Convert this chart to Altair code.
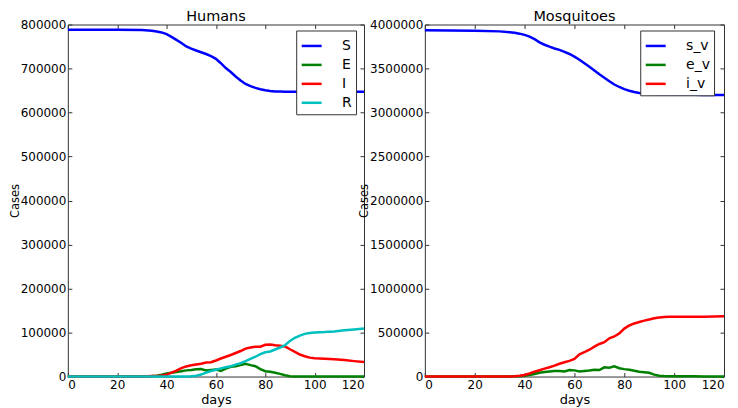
import altair as alt
import pandas as pd

days = [0, 10, 20, 30, 34, 36, 38, 40, 42, 44, 46, 48, 50, 52, 54, 56, 58, 60, 62, 64, 66,
        68, 70, 72, 74, 76, 78, 80, 82, 84, 86, 88, 90, 92, 94, 96, 98, 100, 104, 108, 112, 116, 120]

# Humans
S = [788000, 788000, 788000, 787500, 786000, 784000, 782000, 778000, 772000, 765000, 758000,
     750000, 745000, 741000, 737000, 733000, 728000, 722000, 712000, 701000, 692000,
     682000, 673000, 665000, 660000, 656000, 653000, 650500, 649000, 648000, 647500, 647000,
     647000, 647000, 647000, 647000, 647000, 647000, 647000, 647000, 647000, 647000, 647000]
E = [0, 0, 0, 0, 1000, 2000, 4000, 7000, 8500, 10000, 12000, 14000, 15000, 16500, 17000, 14000,
     15000, 16000, 12500, 18000, 22000, 23500, 26000, 29000, 26000, 23500, 17000, 12000, 11000,
     8500, 6000, 3000, 800, 300, 0, 0, 0, 0, 0, 0, 0, 0, 0]
I = [0, 0, 0, 0, 1000, 1500, 2500, 4000, 9000, 13500, 19000, 23000, 25500, 27500, 29000, 32000,
     32500, 36500, 41000, 45000, 49000, 53500, 58000, 63500, 66000, 67500, 67800, 72000, 73000,
     71000, 70000, 68500, 62000, 56000, 50000, 46000, 43000, 41500, 40500, 39500, 37500, 35000, 33000]
R = [0, 0, 0, 0, 0, 0, 0, 0, 0, 0, 0, 0, 500, 2000, 4500, 9000, 12500, 15500, 18500, 21000, 23500,
     27000, 30500, 35000, 40000, 45000, 51000, 55000, 57000, 61500, 66000, 71000, 81000, 88000,
     93000, 97000, 99000, 100000, 101000, 102500, 105000, 107000, 109000]

# Mosquitoes
s_v = [3935000, 3932000, 3928000, 3922000, 3912000, 3906000, 3896000, 3882000, 3862000, 3833000,
       3797000, 3770000, 3748000, 3728000, 3712000, 3690000, 3665000, 3635000, 3600000, 3560000,
       3520000, 3478000, 3435000, 3395000, 3355000, 3318000, 3290000, 3265000, 3248000, 3233000,
       3222000, 3215000, 3210000, 3208000, 3206000, 3205000, 3205000, 3204000, 3203000, 3202000,
       3200000, 3199000, 3198000]
e_v = [0, 0, 0, 0, 1000, 2000, 4000, 10000, 18000, 28000, 42000, 52000, 58000, 62000, 63000, 58000,
       75000, 70000, 57000, 63000, 68000, 76000, 74000, 105000, 100000, 115000, 95000, 84000, 76000,
       66000, 54000, 48000, 42000, 22000, 10000, 6000, 4000, 3000, 2500, 2000, 1500, 1200, 1000]
i_v = [0, 0, 0, 0, 1000, 3000, 8000, 18000, 35000, 55000, 72000, 90000, 106000, 124000, 145000,
       163000, 178000, 200000, 252000, 278000, 305000, 340000, 370000, 390000, 435000, 455000,
       490000, 545000, 580000, 603000, 620000, 635000, 648000, 663000, 670000, 676000, 678000,
       679000, 680000, 680000, 680000, 681000, 684000]

human_names = ["S", "E", "I", "R"]
human_colors = ["#0000ff", "#008000", "#ff0000", "#00bfbf"]
mosq_names = ["s_v", "e_v", "i_v"]
mosq_colors = ["#0000ff", "#008000", "#ff0000"]
x_ticks = [0, 20, 40, 60, 80, 100, 120]
human_y_ticks = [0, 100000, 200000, 300000, 400000, 500000, 600000, 700000, 800000]
mosq_y_ticks = [0, 500000, 1000000, 1500000, 2000000, 2500000, 3000000, 3500000, 4000000]

FONT = "DejaVu Sans"
FRAME = "#333333"
H = 353


def panel(title, names, series, colors, ymax, yticks, width, legend_x):
    rows = []
    for name, vals in zip(names, series):
        for d, v in zip(days, vals):
            rows.append({"day": d, "value": v, "series": name})
    df = pd.DataFrame(rows)
    xs = alt.Scale(domain=[0, 120], nice=False, zero=False)
    ys = alt.Scale(domain=[0, ymax], nice=False)
    base = alt.Chart(df)
    lines = base.mark_line(strokeWidth=2.5).encode(
        x=alt.X("day:Q", scale=xs, axis=alt.Axis(
            values=x_ticks, title="days", offset=-4, tickSize=4, tickColor=FRAME,
            domain=False, grid=False, labelPadding=3, format="d", minExtent=0,
            labelFontSize=12, labelColor="black", titleFontSize=13,
            titleFontWeight="normal", titleColor="black", titlePadding=3)),
        y=alt.Y("value:Q", scale=ys, axis=alt.Axis(
            values=yticks, title="Cases", offset=-4, tickSize=4, tickColor=FRAME,
            domain=False, grid=False, labelPadding=2, format="d", minExtent=0,
            labelFontSize=12, labelColor="black", titleFontSize=11.5,
            titleFontWeight="normal", titleColor="black", titlePadding=0)),
        color=alt.Color("series:N", scale=alt.Scale(domain=names, range=colors),
                        legend=alt.Legend(
                            title=None, orient="none", legendX=legend_x, legendY=6,
                            fillColor="white", strokeColor=FRAME, padding=4,
                            symbolType="stroke", symbolSize=400, symbolStrokeWidth=2.5,
                            labelFontSize=14, labelOffset=19, rowPadding=0,
                            labelColor="black", cornerRadius=0)),
    )
    frame = base.mark_line(opacity=0).encode(
        x=alt.X("day:Q", scale=xs, axis=alt.Axis(
            orient="top", values=x_ticks, labels=False, title=None, offset=-4,
            tickSize=4, tickColor=FRAME, domain=False, grid=False, minExtent=0, maxExtent=0)),
        y=alt.Y("value:Q", scale=ys, axis=alt.Axis(
            orient="right", values=yticks, labels=False, title=None, offset=-4,
            tickSize=4, tickColor=FRAME, domain=False, grid=False, minExtent=0, maxExtent=0)),
        detail="series:N",
    )
    return alt.layer(lines, frame).resolve_axis(x="independent", y="independent").properties(
        width=width, height=H,
        title=alt.TitleParams(title, fontSize=14.5, fontWeight="normal", color="black",
                              offset=-6, anchor="middle"))


left = panel("Humans", human_names, [S, E, I, R], human_colors, 800000, human_y_ticks, 297, 229)
right = panel("Mosquitoes", mosq_names, [s_v, e_v, i_v], mosq_colors, 4000000, mosq_y_ticks, 300, 216)

chart = alt.hconcat(left, right, spacing=61, bounds="flush").resolve_scale(
    color="independent").properties(
    padding={"left": 0, "top": 0, "right": 0, "bottom": 0}
).configure(font=FONT).configure_view(stroke=FRAME, strokeWidth=1)

chart.save("out.html", embed_options={"renderer": "svg", "actions": False})
